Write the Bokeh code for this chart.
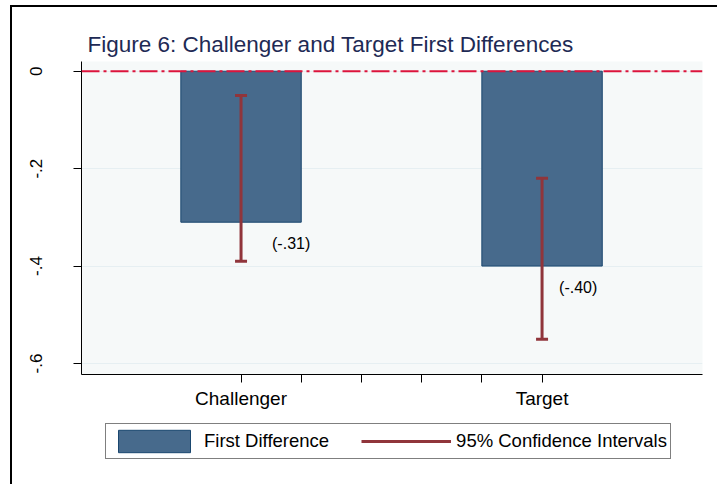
from bokeh.plotting import figure
from bokeh.layouts import column
from bokeh.models import (ColumnDataSource, Span, Legend, LegendItem, FixedTicker,
                          CustomJSTickFormatter, Range1d)
from bokeh.core.properties import value
from bokeh.embed import file_html
from bokeh.resources import INLINE

# ---- data ----
categories = ["Challenger", "Target"]
cat_pos = [1, 2]
first_diff = [-0.31, -0.40]
ci_lower = [-0.39, -0.55]
ci_upper = [-0.05, -0.22]
y_ticks = [-0.6, -0.4, -0.2, 0.0]
x_ticks = [1, 1.2, 1.4, 1.6, 1.8, 2]
title_text = "Figure 6: Challenger and Target First Differences"
legend_labels = ["First Difference", "95% Confidence Intervals"]

# ---- styles ----
FONT = "Liberation Sans"
BAR_FILL = "#476A8C"
BAR_LINE = "#1A476F"
CI_COLOR = "#90353B"
label_dx = [31, 17]

labels = [("(%.2f)" % v).replace("-0.", "-.").replace("0.", ".") for v in first_diff]

src = ColumnDataSource(dict(x=cat_pos, fd=first_diff, lo=ci_lower, hi=ci_upper,
                            lab=labels, dx=label_dx))

p = figure(frame_width=621, frame_height=313, output_backend="svg", toolbar_location=None,
           x_range=Range1d(0.47, 2.533), y_range=Range1d(-0.6226, 0.0199),
           min_border_left=69, min_border_right=15, min_border_top=54,
           min_border_bottom=40)

p.title.text = title_text
p.title.text_font = FONT
p.title.text_font_size = "22.5px"
p.title.text_font_style = "normal"
p.title.text_color = "#1E2A55"
p.title.align = "left"
p.title.offset = 6

p.background_fill_color = "#F6F9F9"
p.border_fill_color = "white"
p.outline_line_color = None

p.xgrid.grid_line_color = None
p.ygrid.grid_line_color = "#E6EFF2"
p.ygrid.grid_line_width = 1
p.ygrid.ticker = FixedTicker(ticks=y_ticks)

bars = p.vbar(x="x", top=0, bottom="fd", width=0.4, source=src,
              fill_color=BAR_FILL, line_color=BAR_LINE, line_width=1)

seg = p.segment(x0="x", y0="lo", x1="x", y1="hi", source=src,
                line_color=CI_COLOR, line_width=3)
p.scatter(x="x", y="lo", source=src, marker="dash", size=12,
          line_color=CI_COLOR, line_width=3)
p.scatter(x="x", y="hi", source=src, marker="dash", size=12,
          line_color=CI_COLOR, line_width=3)

p.text(x="x", y="fd", text="lab", source=src, x_offset="dx", y_offset=21,
       text_align="left", text_baseline="middle", text_font=value(FONT),
       text_font_size="16px", text_color="black")

p.add_layout(Span(location=0, dimension="width", line_color="#DC143C",
                  line_width=2, line_dash="18 4 3 4"))

# axes
p.yaxis.ticker = FixedTicker(ticks=y_ticks)
p.yaxis.formatter = CustomJSTickFormatter(
    code="return Math.abs(tick) < 1e-9 ? '0' : tick.toFixed(1).replace('0.', '.');")
p.yaxis.major_label_orientation = "vertical"
p.yaxis.major_label_text_font = FONT
p.yaxis.major_label_text_font_size = "17px"
p.yaxis.major_label_text_color = "black"
p.yaxis.major_label_standoff = 31
p.yaxis.major_tick_in = 0
p.yaxis.major_tick_out = 8
p.yaxis.minor_tick_line_color = None
p.yaxis.axis_line_color = "black"
p.yaxis.major_tick_line_color = "black"

cat_js = "{" + ",".join("%d:'%s'" % (c, n) for c, n in zip(cat_pos, categories)) + "}"
p.xaxis.ticker = FixedTicker(ticks=x_ticks)
p.xaxis.formatter = CustomJSTickFormatter(
    code="const m = %s; const k = Math.round(tick); return Math.abs(tick-k) < 1e-9 && (k in m) ? m[k] : '';" % cat_js)
p.xaxis.major_label_text_font = FONT
p.xaxis.major_label_text_font_size = "19px"
p.xaxis.major_label_text_color = "black"
p.xaxis.major_tick_in = 0
p.xaxis.major_tick_out = 8
p.xaxis.minor_tick_line_color = None
p.xaxis.axis_line_color = "black"
p.xaxis.major_tick_line_color = "black"

# ---- legend strip (separate figure below the chart) ----
# its renderers share the chart's data but its ranges keep them out of view,
# so only the legend box itself is visible
lg = figure(width=705, height=70, output_backend="svg", toolbar_location=None,
            x_range=Range1d(10, 11), y_range=Range1d(10, 11),
            min_border=0, min_border_left=0, min_border_right=0,
            min_border_top=0, min_border_bottom=0)
lg.axis.visible = False
lg.grid.visible = False
lg.outline_line_color = None
lg.background_fill_color = "white"
lg.border_fill_color = "white"
lg_bar = lg.vbar(x="x", top=0, bottom="fd", width=0.4, source=src,
                 fill_color=BAR_FILL, line_color=BAR_LINE, line_width=1)
lg_seg = lg.segment(x0="x", y0="lo", x1="x", y1="hi", source=src,
                    line_color=CI_COLOR, line_width=3)

legend = Legend(items=[LegendItem(label=legend_labels[0], renderers=[lg_bar]),
                       LegendItem(label=legend_labels[1], renderers=[lg_seg])],
                orientation="horizontal", location=(24, 25),
                glyph_width=90, glyph_height=28, label_standoff=5, spacing=32,
                padding=3, border_line_color="black", border_line_width=1,
                background_fill_color="white", background_fill_alpha=1,
                label_text_font=FONT, label_text_font_size="18.5px",
                label_text_color="black", margin=0)
lg.add_layout(legend)

layout = column(p, lg, spacing=0)
layout.styles = {"margin-left": "10px", "margin-top": "5px",
                 "border-left": "2px solid black", "border-top": "2px solid black"}

open("out.html", "w").write(file_html(layout, INLINE))
